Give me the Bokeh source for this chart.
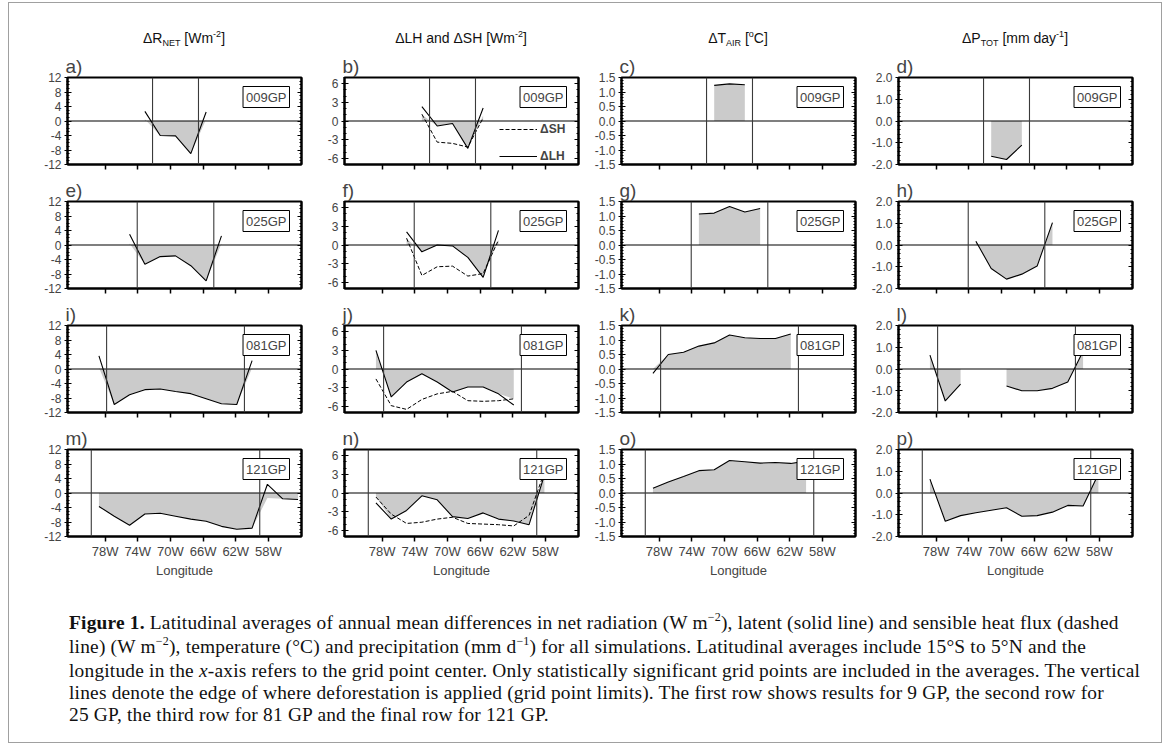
from bokeh.plotting import figure
from bokeh.models import (Range1d, LinearAxis, Span, Label, Legend, LegendItem, FixedTicker,
                          PrintfTickFormatter, Div)
from bokeh.layouts import row, column
from bokeh.embed import file_html
from bokeh.resources import INLINE

N = float("nan")

# ---------------- data ----------------
LON = [-78.75, -76.875, -75.0, -73.125, -71.25, -69.375, -67.5, -65.625,
       -63.75, -61.875, -60.0, -58.125, -56.25, -54.375]
XTICKS = [-78, -74, -70, -66, -62, -58]
XTICK_LABELS = ["78W", "74W", "70W", "66W", "62W", "58W"]

YTICKS = [
    [-12, -8, -4, 0, 4, 8, 12],
    [-6, -3, 0, 3, 6],
    [-1.5, -1.0, -0.5, 0.0, 0.5, 1.0, 1.5],
    [-2.0, -1.0, 0.0, 1.0, 2.0],
]
YMINOR_STEP = [1.0, 1.0, 0.1, 0.2]

TAGS = ["009GP", "025GP", "081GP", "121GP"]
EDGES_009 = [-72.1875, -66.5625]
EDGES_025 = [-74.0625, -64.6875]
EDGES_081 = [-77.8125, -60.9375]
EDGES_121 = [-79.6875, -59.0625]

# column 1: net radiation
RNET_009 = [N, N, N, 2.65, -4.0, -4.1, -9.0, 2.5, N, N, N, N, N, N]
RNET_009_SIG = [N, N, N, 0.5, -4.0, -4.1, -9.0, 0.5, N, N, N, N, N, N]
RNET_025 = [N, N, 2.95, -5.3, -3.2, -3.0, -5.7, -9.9, 2.5, N, N, N, N, N]
RNET_025_SIG = [N, N, 0.4, -5.3, -3.2, -3.0, -5.7, -9.9, 0.4, N, N, N, N, N]
RNET_081 = [3.6, -9.8, -7.1, -5.7, -5.5, -6.2, -6.8, -8.2, -9.6, -9.8, 2.3, N, N, N]
RNET_081_SIG = [0.4, -9.8, -7.1, -5.7, -5.5, -6.2, -6.8, -8.2, -9.6, -9.8, 0.3, N, N, N]
RNET_121 = [-3.7, -6.4, -8.9, -5.8, -5.6, -6.4, -7.2, -7.8, -9.2, -10.0, -9.7, 2.4, -1.6, -1.8]
RNET_121_SIG = [-3.7, -6.4, -8.9, -5.8, -5.6, -6.4, -7.2, -7.8, -9.2, -10.0, -9.7, -1.4, -1.6, -1.8]

# column 2: latent (LH, solid) and sensible (SH, dashed) heat
LH_009 = [N, N, N, 2.3, -0.8, -0.4, -4.4, 2.1, N, N, N, N, N, N]
SH_009 = [N, N, N, 1.1, -3.4, -3.6, -4.2, 0.5, N, N, N, N, N, N]
LH_009_SIG = [N, N, N, 1.0, -0.8, -0.4, -4.4, 0.9, N, N, N, N, N, N]
LH_025 = [N, N, 2.1, -1.1, 0.0, -0.15, -2.0, -5.2, 2.35, N, N, N, N, N]
SH_025 = [N, N, 1.1, -4.9, -3.5, -3.4, -5.0, -4.6, 0.8, N, N, N, N, N]
LH_025_SIG = [N, N, 1.0, -1.1, 0.0, -0.15, -2.0, -5.2, 0.9, N, N, N, N, N]
LH_081 = [3.0, -4.5, -2.1, -0.75, -2.1, -3.7, -2.9, -2.9, -4.0, -5.8, N, N, N, N]
SH_081 = [-1.6, -5.9, -6.5, -4.9, -4.0, -3.6, -5.1, -5.2, -5.1, -4.8, N, N, N, N]
LH_081_SIG = [3.0, -4.5, -2.1, -0.75, -2.1, -3.7, -2.9, -2.9, -4.0, -4.8, N, N, N, N]
LH_121 = [-1.6, -4.2, -2.8, -0.45, -1.1, -3.8, -4.1, -3.2, -4.2, -4.5, -5.1, 2.9, N, N]
SH_121 = [-0.65, -3.4, -4.9, -4.7, -4.2, -3.9, -4.9, -5.0, -5.1, -5.3, -3.6, 3.4, N, N]
LH_121_SIG = [-0.6, -4.2, -2.8, -0.45, -1.1, -3.8, -4.1, -3.2, -4.2, -4.5, -5.1, 2.9, N, N]

# column 3: air temperature
TAIR_009 = [N, N, N, N, 1.23, 1.28, 1.25, N, N, N, N, N, N, N]
TAIR_025 = [N, N, N, 1.07, 1.10, 1.33, 1.14, 1.26, N, N, N, N, N, N]
TAIR_081 = [-0.15, 0.50, 0.58, 0.79, 0.90, 1.17, 1.08, 1.05, 1.05, 1.21, N, N, N, N]
TAIR_081_SIG = [0.0, 0.50, 0.58, 0.79, 0.90, 1.17, 1.08, 1.05, 1.05, 1.21, N, N, N, N]
TAIR_121 = [0.16, 0.38, 0.57, 0.77, 0.80, 1.12, 1.08, 1.03, 1.05, 1.02, 1.10, N, N, N]

# column 4: total precipitation
PTOT_009 = [N, N, N, N, -1.62, -1.77, -1.11, N, N, N, N, N, N, N]
PTOT_025 = [N, N, N, 0.17, -1.08, -1.57, -1.34, -0.97, 1.03, N, N, N, N, N]
PTOT_081 = [0.64, -1.47, -0.70, N, N, -0.78, -1.00, -1.00, -0.89, -0.60, 0.82, N, N, N]
PTOT_121 = [0.64, -1.30, -1.04, -0.91, -0.79, -0.68, -1.07, -1.04, -0.88, -0.57, -0.60, 0.87, N, N]

SUB = "<span style='font-size:9px;position:relative;top:3px'>%s</span>"
SUP = "<span style='font-size:9px;position:relative;top:-6px'>%s</span>"
COL_TITLES = [
    "&Delta;R" + SUB % "NET" + " [Wm" + SUP % "-2" + "]",
    "&Delta;LH and &Delta;SH [Wm" + SUP % "-2" + "]",
    "&Delta;T" + SUB % "AIR" + " [" + SUP % "o" + "C]",
    "&Delta;P" + SUB % "TOT" + " [mm day" + SUP % "-1" + "]",
]
LETTERS = list("abcdefghijklmnop")

# ---------------- layout constants ----------------
FONT = "Liberation Sans"
FW, FH = 234, 87
XMIN, XMAX = -82.6, -53.95
LB = [58, 37, 37, 37]
RB = 6
TB = [27, 25, 25, 25]
BB = [12, 12, 12, 56]
YR = [(-12, 12), (-7, 7), (-1.5, 1.5), (-2, 2)]
YFMT = ["%d", "%d", "%.1f", "%.1f"]
FILL = "#cbcbcb"


def minor_ticks(ci):
    lo, hi = YR[ci]
    step = YMINOR_STEP[ci]
    n = int(round((hi - lo) / step))
    return [round(lo + i * step, 4) for i in range(n + 1)]


def polys(xs, vals):
    px, py = [], []
    cx, cy = [], []
    for x, v in list(zip(xs, vals)) + [(None, N)]:
        if v == v:
            cx.append(x)
            cy.append(v)
        else:
            if cx:
                px.append(cx + cx[::-1])
                py.append(cy + [0.0] * len(cx))
            cx, cy = [], []
    return px, py


def make_panel(ci, ri, solid, fill, edges, dashed=None, legend=False):
    p = figure(frame_width=FW, frame_height=FH,
               x_range=Range1d(XMIN, XMAX), y_range=Range1d(*YR[ci]),
               toolbar_location=None, tools="", output_backend="svg",
               min_border_left=LB[ci], min_border_right=RB,
               min_border_top=TB[ri], min_border_bottom=BB[ri])
    p.background_fill_color = "white"
    p.border_fill_color = "white"
    p.outline_line_color = "black"
    p.outline_line_width = 2
    p.xgrid.visible = False
    p.ygrid.visible = False

    p.title.text = LETTERS[ri * 4 + ci] + ")"
    p.title.align = "left"
    p.title.text_font = FONT
    p.title.text_font_size = "19px"
    p.title.text_font_style = "normal"
    p.title.standoff = 1
    p.title.offset = -2

    xa = p.xaxis[0]
    xa.ticker = FixedTicker(ticks=XTICKS, minor_ticks=[])
    xa.major_tick_out = 5
    xa.major_tick_in = 0
    xa.axis_line_width = 2
    xa.major_tick_line_width = 1.5
    xa.major_label_text_font = FONT
    if ri == 3:
        xa.major_label_overrides = dict(zip(XTICKS, XTICK_LABELS))
        xa.major_label_text_font_size = "13px"
        xa.major_label_standoff = 2
        xa.axis_label = "Longitude"
        xa.axis_label_text_font = FONT
        xa.axis_label_text_font_size = "13px"
        xa.axis_label_text_font_style = "normal"
        xa.axis_label_standoff = 1
    else:
        xa.major_label_overrides = {t: "" for t in XTICKS}
        xa.major_label_text_font_size = "1px"
        xa.major_label_standoff = 0

    ya = p.yaxis[0]
    ya.ticker = FixedTicker(ticks=YTICKS[ci], minor_ticks=minor_ticks(ci))
    ya.formatter = PrintfTickFormatter(format=YFMT[ci])
    ya.major_label_text_font = FONT
    ya.major_label_text_font_size = "12px"
    ya.major_tick_in = 4
    ya.major_tick_out = 3
    ya.minor_tick_in = 2
    ya.minor_tick_out = 1
    ya.major_label_standoff = 3
    ya.axis_line_width = 2

    ra = LinearAxis(ticker=FixedTicker(ticks=YTICKS[ci], minor_ticks=minor_ticks(ci)),
                    major_label_overrides={t: "" for t in YTICKS[ci]},
                    major_label_text_font_size="1px", major_label_standoff=0,
                    major_tick_in=4, major_tick_out=0, minor_tick_in=2, minor_tick_out=0,
                    axis_line_width=2)
    p.add_layout(ra, "right")

    fx, fy = polys(LON, fill)
    p.patches(fx, fy, fill_color=FILL, line_color=None)

    r_dash = None
    if dashed is not None:
        r_dash = p.line(LON, dashed, line_color="black", line_width=1, line_dash="4 2")
    r_solid = p.line(LON, solid, line_color="black", line_width=1.1)

    p.add_layout(Span(location=0, dimension="width", line_color="black", line_width=1.2))
    for e in edges:
        p.add_layout(Span(location=e, dimension="height", line_color="#3a3a3a", line_width=1.1))

    p.add_layout(Label(x=XMAX, y=YR[ci][1], x_offset=-12, y_offset=-9, text=TAGS[ri],
                       text_align="right", text_baseline="top", text_font=FONT,
                       text_font_size="13px", background_fill_color="white",
                       border_line_color="black", border_line_width=1, padding=3))

    if legend:
        lg = Legend(items=[LegendItem(label="\u0394SH", renderers=[r_dash]),
                           LegendItem(label="\u0394LH", renderers=[r_solid])],
                    location=(155, 1), orientation="vertical",
                    background_fill_alpha=0, border_line_color=None,
                    padding=0, margin=0, spacing=13, glyph_height=14, glyph_width=38,
                    label_height=14, label_standoff=3, label_text_font=FONT,
                    label_text_font_size="12px", label_text_font_style="bold")
        p.add_layout(lg)
    return p


EDGES = [EDGES_009, EDGES_025, EDGES_081, EDGES_121]
SPEC = [
    [(RNET_009, RNET_009_SIG, None), (LH_009, LH_009_SIG, SH_009), (TAIR_009, TAIR_009, None), (PTOT_009, PTOT_009, None)],
    [(RNET_025, RNET_025_SIG, None), (LH_025, LH_025_SIG, SH_025), (TAIR_025, TAIR_025, None), (PTOT_025, PTOT_025, None)],
    [(RNET_081, RNET_081_SIG, None), (LH_081, LH_081_SIG, SH_081), (TAIR_081, TAIR_081_SIG, None), (PTOT_081, PTOT_081, None)],
    [(RNET_121, RNET_121_SIG, None), (LH_121, LH_121_SIG, SH_121), (TAIR_121, TAIR_121, None), (PTOT_121, PTOT_121, None)],
]

rows = []
for ri in range(4):
    figs = []
    for ci in range(4):
        solid, fill, dashed = SPEC[ri][ci]
        figs.append(make_panel(ci, ri, solid, fill, EDGES[ri], dashed,
                               legend=(ri == 0 and ci == 1)))
    rows.append(row(*figs, spacing=0))

HEAD_H = 47
heads = []
for ci in range(4):
    w = LB[ci] + FW + RB
    html = ("<div style='margin-left:%dpx;width:%dpx;text-align:center;font-family:\"Liberation Sans\";"
            "font-size:14px;line-height:18px;padding-top:26px;color:#111;white-space:nowrap'>%s</div>") % (LB[ci], FW, COL_TITLES[ci])
    heads.append(Div(text=html, width=w, height=HEAD_H, margin=(0, 0, 0, 0)))
head_row = row(*heads, spacing=0)

CSUP = "<span style='font-size:12px;position:relative;top:-8px'>%s</span>"
CAPTION = (
    "<b>Figure 1.</b> Latitudinal averages of annual mean differences in net radiation (W m" + CSUP % "&minus;2" + "), latent (solid line) and sensible heat flux (dashed<br>"
    "line) (W m" + CSUP % "&minus;2" + "), temperature (&deg;C) and precipitation (mm d" + CSUP % "&minus;1" + ") for all simulations. Latitudinal averages include 15&deg;S to 5&deg;N and the<br>"
    "longitude in the <i>x</i>-axis refers to the grid point center. Only statistically significant grid points are included in the averages. The vertical<br>"
    "lines denote the edge of where deforestation is applied (grid point limits). The first row shows results for 9 GP, the second row for<br>"
    "25 GP, the third row for 81 GP and the final row for 121 GP."
)
cap = Div(text=("<div style='font-family:\"Liberation Serif\";font-size:19.4px;line-height:22px;letter-spacing:0.2px;"
                "white-space:nowrap;padding-left:60px;padding-top:20px;color:#111'>%s</div>") % CAPTION,
          width=1152, height=150, margin=(0, 0, 0, 0))

layout = column(head_row, *rows, cap, spacing=0,
                styles={"border": "1px solid #a0a0a0"}, margin=(2, 0, 0, 8))

open("out.html", "w").write(file_html(layout, INLINE))
